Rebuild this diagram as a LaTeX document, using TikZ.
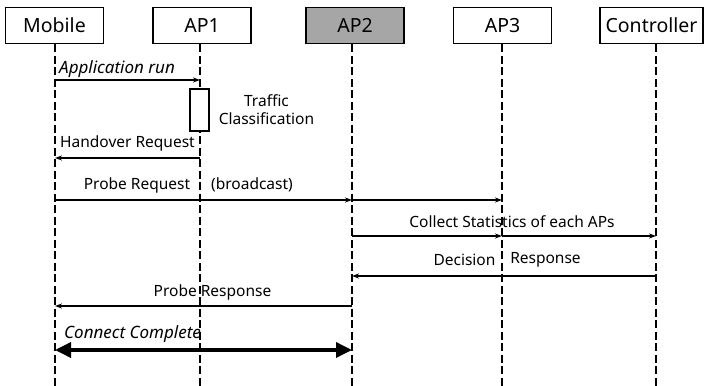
\documentclass[tikz,border=0pt]{standalone}
\usepackage{fontspec}
\setmainfont{Noto Sans}
\usetikzlibrary{arrows.meta}
\definecolor{boxgray}{RGB}{166,166,166}
\begin{document}
\begin{tikzpicture}[x=1pt,y=-1pt,
  actor/.style={draw,line width=1.8pt,minimum width=98pt,minimum height=36pt,inner sep=0pt,font=\fontsize{19.5}{22}\selectfont},
  life/.style={line width=2.5pt,dash pattern=on 8pt off 3.5pt},
  msg/.style={line width=1.5pt,-{Stealth[length=7pt,width=5pt]}},
  lbl/.style={font=\fontsize{15.5}{18}\selectfont,inner sep=0pt},
  ilbl/.style={font=\fontsize{17}{20}\selectfont\itshape,inner sep=0pt},
]
\useasboundingbox (0,0) rectangle (705,386);

% actors
\node[actor] (mob) at (54.5,25.5) {Mobile};
\node[actor] (ap1) at (202,25.5) {AP1};
\node[actor,fill=boxgray] (ap2) at (355,25.5) {AP2};
\node[actor] (ap3) at (502.5,25.5) {AP3};
\node[actor,minimum width=103pt] (ctl) at (651.5,25.5) {Controller};

% lifelines
\coordinate (mT) at (55,44);  \coordinate (mB) at (55,386);
\coordinate (aT) at (200,44); \coordinate (aB) at (200,386);
\coordinate (bT) at (352,44); \coordinate (bB) at (352,386);
\coordinate (cT) at (502,44); \coordinate (cB) at (502,386);
\coordinate (dT) at (656,44); \coordinate (dB) at (656,386);
\foreach \l in {m,a,b,c,d} \draw[life] (\l T) -- (\l B);

% message anchor points
\coordinate (m80) at (55,80);   \coordinate (a80) at (200,80);
\coordinate (a158) at (200,158); \coordinate (m158) at (55,158);
\coordinate (m200) at (55,200); \coordinate (b200) at (352,200); \coordinate (c200) at (502,200);
\coordinate (b236) at (352,236); \coordinate (c236) at (502,236); \coordinate (d236) at (656,236);
\coordinate (d276) at (656,276); \coordinate (b276) at (352,276);
\coordinate (b306) at (352,306); \coordinate (m306) at (55,306);
\coordinate (m350) at (55,350); \coordinate (b350) at (352,350);

% Application run
\draw[msg] (m80) -- (a80);
\node[ilbl,anchor=west] (l1) at (59,69) {Application run};

% activation
\node[draw,line width=1.3pt,fill=white,minimum width=19pt,minimum height=42pt,inner sep=0pt] (act) at (199.5,110) {};
\node[lbl,align=center] (tc) at (266.5,110) {Traffic\\Classification};

% Handover request
\draw[msg] (a158) -- (m158);
\node[lbl] (l2) at (127.5,143) {Handover Request};

% Probe request
\draw[msg] (m200) -- (b200);
\draw[msg] (b200) -- (c200);
\node[lbl] (l3a) at (137,185) {Probe Request};
\node[lbl] (l3b) at (252,185) {(broadcast)};

% Collect statistics
\draw[msg] (b236) -- (c236);
\draw[msg] (c236) -- (d236);
\node[lbl] (l4) at (512,221.5) {Collect Statistics of each APs};

% Decision response
\draw[msg] (d276) -- (b276);
\node[lbl] (l5a) at (464.5,260) {Decision};
\node[lbl] (l5b) at (545.5,260) {Response};

% Probe response
\draw[msg] (b306) -- (m306);
\node[lbl] (l6) at (212.5,292) {Probe Response};

% Connect complete
\draw[line width=3.5pt,{Triangle[length=16pt,width=15pt]}-{Triangle[length=16pt,width=15pt]}] (m350) -- (b350);
\node[ilbl,anchor=west] (l7) at (64,334) {Connect Complete};
\end{tikzpicture}
\end{document}
